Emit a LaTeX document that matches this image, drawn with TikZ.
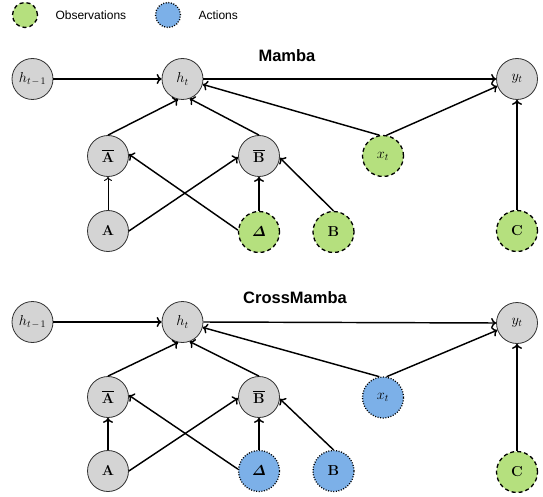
\documentclass[tikz,border=0pt]{standalone}
\usepackage{amsmath,bm}
\usepackage[no-math]{fontspec}
\setsansfont{Liberation Sans}
\usetikzlibrary{arrows.meta}
\definecolor{obsgreen}{RGB}{181,224,126}
\definecolor{actblue}{RGB}{124,176,232}
\definecolor{nodegray}{RGB}{212,212,212}
\tikzset{
  var/.style={circle, minimum size=41pt, inner sep=0pt, draw=black!80, line width=0.8pt, fill=nodegray, font=\fontsize{14.5}{17}\selectfont},
  obs/.style={var, fill=obsgreen, draw=black, line width=1.3pt, dash pattern=on 4pt off 3pt},
  act/.style={var, fill=actblue, draw=black, line width=1.3pt, dash pattern=on 1pt off 1.6pt},
  edge/.style={line width=1.45pt, -{To[length=5pt,width=10pt]}},
  thinedge/.style={line width=0.9pt, -{To[length=4pt,width=8pt]}},
  title/.style={font=\sffamily\bfseries\fontsize{16.5}{19}\selectfont},
  legendtext/.style={font=\sffamily\fontsize{12}{14}\selectfont, anchor=west},
}
\newcommand{\hprev}{$h_{t\mkern2mu-\mkern2mu1}$}
\begin{document}
\begin{tikzpicture}[x=1pt,y=-1pt]
\useasboundingbox (0,0) rectangle (543,497);
% legend
\node[obs, minimum size=25pt] (legobs) at (25,15) {};
\node[legendtext] (legobst) at (52,15) {Observations};
\node[act, minimum size=25pt] (legact) at (168,15) {};
\node[legendtext] (legactt) at (195,15) {Actions};

% ---------- Mamba ----------
\node[title] (ta) at (287,56) {Mamba};
\node[var] (hma) at (32.5,79) {\hprev};
\node[var] (ha) at (182.5,79) {$h_t$};
\node[var] (ya) at (517,79) {$y_t$};
\node[var] (Abara) at (108,156) {$\overline{\mathbf{A}}$};
\node[var] (Bbara) at (259,156) {$\overline{\mathbf{B}}$};
\node[obs] (xa) at (383,156) {$x_t$};
\node[var] (Aa) at (108,231) {$\mathbf{A}$};
\node[obs] (Da) at (259,232) {$\bm{\varDelta}$};
\node[obs] (Ba) at (333.5,232) {$\mathbf{B}$};
\node[obs] (Ca) at (517,231) {$\mathbf{C}$};

\draw[edge] (hma.east) -- (ha.west);
\draw[edge] (ha.east) -- (ya.west);
\draw[edge] (xa.100) -- (ha.345);
\draw[edge] (xa.80) -- (ya.200);
\draw[edge] (Abara.north) -- (ha.258);
\draw[edge] (Bbara.north) -- (ha.290);
\draw[thinedge] (Aa.north) -- (Abara.south);
\draw[edge] (Da.175) -- (Abara.5);
\draw[edge] (Aa.east) -- (Bbara.183);
\draw[edge] (Da.north) -- (Bbara.south);
\draw[edge] (Ba.north) -- (Bbara.-5);
\draw[edge] (Ca.north) -- (ya.south);

% ---------- CrossMamba ----------
\node[title] (tb) at (295,298) {CrossMamba};
\node[var] (hmb) at (32.5,322) {\hprev};
\node[var] (hb) at (182.5,322) {$h_t$};
\node[var] (yb) at (517,323) {$y_t$};
\node[var] (Abarb) at (108,397) {$\overline{\mathbf{A}}$};
\node[var] (Bbarb) at (259,397) {$\overline{\mathbf{B}}$};
\node[act] (xb) at (383,397.5) {$x_t$};
\node[var] (Ab) at (108,471) {$\mathbf{A}$};
\node[act] (Db) at (259,471) {$\bm{\varDelta}$};
\node[act] (Bb) at (333.5,471) {$\mathbf{B}$};
\node[obs] (Cb) at (517,472) {$\mathbf{C}$};

\draw[edge] (hmb.east) -- (hb.west);
\draw[edge] (hb.east) -- (yb.west);
\draw[edge] (xb.100) -- (hb.345);
\draw[edge] (xb.80) -- (yb.200);
\draw[edge] (Abarb.north) -- (hb.258);
\draw[edge] (Bbarb.north) -- (hb.290);
\draw[edge] (Ab.north) -- (Abarb.south);
\draw[edge] (Db.175) -- (Abarb.5);
\draw[edge] (Ab.east) -- (Bbarb.183);
\draw[edge] (Db.north) -- (Bbarb.south);
\draw[edge] (Bb.north) -- (Bbarb.-5);
\draw[edge] (Cb.north) -- (yb.south);
\end{tikzpicture}
\end{document}
